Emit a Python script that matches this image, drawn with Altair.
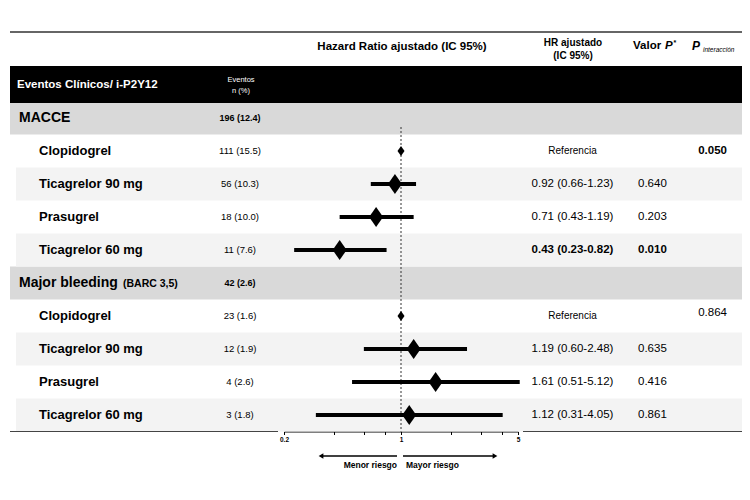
import altair as alt
import pandas as pd

# ---------------- data ----------------
groups = ["MACCE", "Major bleeding"]
group_notes = ["", "(BARC 3,5)"]
group_events = ["196 (12.4)", "42 (2.6)"]
drugs = ["Clopidogrel", "Ticagrelor 90 mg", "Prasugrel", "Ticagrelor 60 mg"]

events_macce = ["111 (15.5)", "56 (10.3)", "18 (10.0)", "11 (7.6)"]
events_bleed = ["23 (1.6)", "12 (1.9)", "4 (2.6)", "3 (1.8)"]

hr_macce = [1.00, 0.92, 0.71, 0.43]
lo_macce = [None, 0.66, 0.43, 0.23]
hi_macce = [None, 1.23, 1.19, 0.82]

hr_bleed = [1.00, 1.19, 1.61, 1.12]
lo_bleed = [None, 0.60, 0.51, 0.31]
hi_bleed = [None, 2.48, 5.12, 4.05]

p_macce = ["", "0.640", "0.203", "0.010"]
p_bleed = ["", "0.635", "0.416", "0.861"]
p_interaction = ["0.050", "0.864"]

axis_ticks = [0.2, 0.4, 0.6, 0.8, 1, 2, 3, 4, 5]
axis_labels = [0.2, 1, 5]

# ---------------- build table ----------------
ev = [events_macce, events_bleed]
hrs = [hr_macce, hr_bleed]
los = [lo_macce, lo_bleed]
his = [hi_macce, hi_bleed]
ps = [p_macce, p_bleed]

recs = []
r = 0
for g in range(2):
    recs.append(dict(row=r, kind="group", label=groups[g], note=group_notes[g],
                     events=group_events[g]))
    r += 1
    for k in range(4):
        lo, hi, hr = los[g][k], his[g][k], hrs[g][k]
        ref = lo is None
        hrtext = "Referencia" if ref else f"{hr:.2f} ({lo:.2f}-{hi:.2f})"
        p = ps[g][k]
        sig = (p != "") and float(p) <= 0.05
        pint = p_interaction[g] if k == 0 else ""
        recs.append(dict(row=r, kind="sub", label=drugs[k], events=ev[g][k],
                         hr=hr, lo=lo, hi=hi, ref=ref, hrtext=hrtext, p=p,
                         sig=sig, shade=(k % 2 == 1), pint=pint,
                         pint_bold=(pint != "" and float(pint) <= 0.05)))
        r += 1
df = pd.DataFrame(recs)
groups_df = df[df.kind == "group"].copy()
subs_df = df[df.kind == "sub"].copy()
ci_df = subs_df[~subs_df.ref.astype(bool)].copy()
ref_df = subs_df[subs_df.ref.astype(bool)].copy()
shade_df = subs_df[subs_df.shade.astype(bool)].copy()
pint_df = subs_df[subs_df.pint != ""].copy()

# ---------------- styling ----------------
FONT = "Liberation Sans, Arial, sans-serif"
W, H = 734, 470
X0, X1 = 2, 735
AX_Y = 423.5

yscale = alt.Scale(domain=[0, 9], range=[110, 407], nice=False, zero=False)
xscale = alt.Scale(type="log", domain=[0.2, 5], range=[276, 510], nice=False)
label_test = " || ".join(f"datum.value == {v}" for v in axis_labels)
xaxis = alt.Axis(values=axis_ticks, labelExpr=f"({label_test}) ? format(datum.value, '~g') : ''",
                 offset=-(H - AX_Y), title=None, grid=False, domainColor="black",
                 tickColor="black", tickSize=3, labelFontSize=6.5, labelFontWeight="bold",
                 labelFont=FONT, labelColor="black", labelPadding=2, labelFlush=False,
                 labelOverlap=False, domainWidth=1)


def Yrow(field="row"):
    return alt.Y(f"{field}:Q", scale=yscale, axis=None)


one = pd.DataFrame({"a": [0]})

gray_bands = alt.Chart(groups_df).mark_rect(color="#d9d9d9").transform_calculate(
    y0="datum.row - 0.5", y1="datum.row + 0.5"
).encode(x=alt.value(X0), x2=alt.value(X1), y=Yrow("y0"), y2="y1:Q")

shade_bands = alt.Chart(shade_df).mark_rect(color="#f3f3f3").transform_calculate(
    y0="datum.row - 0.5", y1="datum.row + 0.5"
).encode(x=alt.value(8), x2=alt.value(X1), y=Yrow("y0"), y2="y1:Q")

black_band = alt.Chart(one).mark_rect(color="black").encode(
    x=alt.value(X0), x2=alt.value(X1), y=alt.value(58), y2=alt.value(95))

top_line = alt.Chart(one).mark_rule(color="#666", strokeWidth=2).encode(
    x=alt.value(X0), x2=alt.value(X1), y=alt.value(24))

bottom_left = alt.Chart(one).mark_rule(color="#444", strokeWidth=1.2).encode(
    x=alt.value(X0), x2=alt.value(270), y=alt.value(AX_Y))
bottom_right = alt.Chart(one).mark_rule(color="#444", strokeWidth=1.2).encode(
    x=alt.value(515), x2=alt.value(X1), y=alt.value(AX_Y))

ref_line = alt.Chart(one).mark_rule(
    color="#333", strokeWidth=1, strokeDash=[2, 2]
).encode(x=alt.X(datum=1, type="quantitative", scale=xscale, axis=xaxis),
         y=alt.value(119), y2=alt.value(AX_Y))

ci = alt.Chart(ci_df).mark_rule(color="black", strokeWidth=4).encode(
    x=alt.X("lo:Q", scale=xscale, axis=xaxis), x2="hi:Q", y=Yrow())

DIAMOND = "M0,-1L0.7,0L0,1L-0.7,0Z"
diam = alt.Chart(ci_df).mark_point(shape=DIAMOND, filled=True, color="black", size=400, opacity=1).encode(
    x=alt.X("hr:Q", scale=xscale, axis=xaxis), y=Yrow())
diam_ref = alt.Chart(ref_df).mark_point(shape=DIAMOND, filled=True, color="black", size=100, opacity=1).encode(
    x=alt.X("hr:Q", scale=xscale, axis=xaxis), y=Yrow())


def txt(data, field, x, size, bold=True, align="left", color="black", italic=False, dy=0):
    kw = dict(font=FONT, fontSize=size, fontWeight="bold" if bold else "normal",
              align=align, baseline="middle", color=color, dy=dy)
    if italic:
        kw["fontStyle"] = "italic"
    return alt.Chart(data).mark_text(**kw).encode(x=alt.value(x), y=Yrow(), text=f"{field}:N")


def ftxt(s, x, y, size, bold=True, align="left", color="black", italic=False):
    kw = dict(font=FONT, fontSize=size, fontWeight="bold" if bold else "normal",
              align=align, baseline="middle", color=color, text=s)
    if italic:
        kw["fontStyle"] = "italic"
    return alt.Chart(one).mark_text(**kw).encode(x=alt.value(x), y=alt.value(y))


group_labels = txt(groups_df, "label", 11, 14)
group_note_t = txt(groups_df[groups_df.note != ""], "note", 115, 10.5, dy=1)
group_ev = txt(groups_df, "events", 232, 9, align="center")
sub_labels = txt(subs_df, "label", 31, 13)
sub_ev = txt(subs_df, "events", 232, 9.5, bold=False, align="center")
hr_ref = txt(subs_df[subs_df.ref.astype(bool)], "hrtext", 564.5, 10, bold=False, align="center")
hr_ns = txt(subs_df[(~subs_df.ref.astype(bool)) & (~subs_df.sig.astype(bool))], "hrtext", 564.5, 11.5,
            bold=False, align="center")
hr_sig = txt(subs_df[subs_df.sig.astype(bool)], "hrtext", 564.5, 11.5, align="center")
p_ns = txt(subs_df[(subs_df.p != "") & (~subs_df.sig.astype(bool))], "p", 630, 11.5, bold=False)
p_sig = txt(subs_df[subs_df.sig.astype(bool)], "p", 630, 11.5)
pint_b = txt(pint_df[pint_df.pint_bold.astype(bool)], "pint", 719, 11.5, align="right")
pint_n = txt(pint_df[~pint_df.pint_bold.astype(bool)], "pint", 719, 11.5, bold=False, align="right", dy=-3)

headers = [
    ftxt("Hazard Ratio  ajustado (IC 95%)", 394, 39, 11.5, align="center"),
    ftxt("HR ajustado", 565, 35, 10, align="center"),
    ftxt("(IC 95%)", 565, 48, 10, align="center"),
    ftxt("Valor", 625, 38, 11.5),
    ftxt("P", 657, 38, 11.5, italic=True),
    ftxt("*", 665.5, 35, 7),
    ftxt("P", 684, 38, 12, italic=True),
    ftxt("interacción", 695, 42, 6.5, bold=False, italic=True),
    ftxt("Eventos Clínicos/ i-P2Y12", 9, 77, 11.5, color="white"),
    ftxt("Eventos", 233, 72, 7.5, bold=False, align="center", color="white"),
    ftxt("n (%)", 233, 83, 7.5, bold=False, align="center", color="white"),
    ftxt("Menor riesgo", 389, 457, 8.5, align="right"),
    ftxt("Mayor riesgo", 398, 457, 8.5),
]

arrow_l = alt.Chart(one).mark_rule(color="black", strokeWidth=1.3).encode(
    x=alt.value(313), x2=alt.value(389), y=alt.value(448))
arrow_r = alt.Chart(one).mark_rule(color="black", strokeWidth=1.3).encode(
    x=alt.value(395), x2=alt.value(486), y=alt.value(448))
head_l = alt.Chart(one).mark_point(shape="triangle-left", filled=True, color="black", size=30, opacity=1).encode(
    x=alt.value(313), y=alt.value(448))
head_r = alt.Chart(one).mark_point(shape="triangle-right", filled=True, color="black", size=30, opacity=1).encode(
    x=alt.value(487), y=alt.value(448))

chart = alt.layer(
    gray_bands, shade_bands, black_band, top_line, bottom_left, bottom_right,
    ref_line, ci, diam, diam_ref,
    group_labels, group_note_t, group_ev, sub_labels, sub_ev,
    hr_ref, hr_ns, hr_sig, p_ns, p_sig, pint_b, pint_n,
    *headers, arrow_l, arrow_r, head_l, head_r
).properties(
    width=W, height=H, padding=0, autosize=alt.AutoSizeParams(type="none")
).configure_view(strokeWidth=0)

chart.save("out.html", embed_options={"renderer": "svg", "actions": False})
